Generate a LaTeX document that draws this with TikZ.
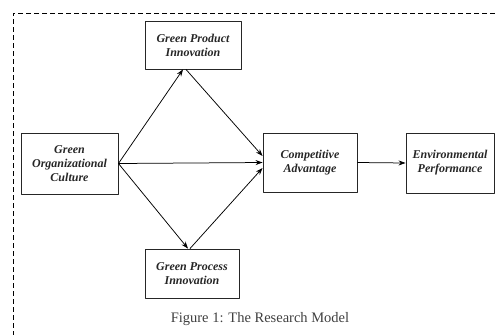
\documentclass[tikz,border=0pt]{standalone}
\usepackage{fontspec}
\setmainfont{Liberation Serif}
\usetikzlibrary{arrows.meta}
\begin{document}
\begin{tikzpicture}[x=1pt, y=-1pt, line join=round, >={Stealth[length=7pt,width=5pt]}, line width=0.7pt,
		box/.style={draw=black!85, line width=0.9pt, align=center, inner sep=0pt, font=\fontsize{12}{14}\selectfont\bfseries\itshape, text=black!85},
		link/.style={->, line width=0.75pt}]
			\useasboundingbox (0,0) rectangle (495,335);
			\draw[dashed, dash pattern=on 5pt off 3pt, line width=0.8pt] (495,13)--(13,13)--(13,335);
			\node[box, minimum width=96pt, minimum height=48pt] (gpi) at (193,45) {Green Product\\Innovation};
			\node[box, minimum width=97pt, minimum height=61pt] (goc) at (69.5,163.5) {Green\\Organizational\\Culture};
			\node[box, minimum width=94pt, minimum height=59pt] (ca) at (310,162.5) {Competitive\\Advantage};
			\node[box, minimum width=88pt, minimum height=60pt] (ep) at (450,163) {Environmental\\Performance};
			\node[box, minimum width=94pt, minimum height=49pt] (gpr) at (192,273.5) {Green Process\\Innovation};
			\draw[link] (goc.east)--([xshift=-10pt]gpi.south);
			\draw[link] ([xshift=-7pt]gpi.south)--([yshift=6.5pt]ca.west);
			\draw[link] (goc.east)--(ca.west);
			\draw[link] (goc.east)--([xshift=-4pt]gpr.north);
			\draw[link] ([xshift=-2pt]gpr.north)--([yshift=-5.5pt]ca.west);
			\draw[link] (ca.east)--(ep.west);
			\node[font=\fontsize{14.5}{17}\selectfont, text=black!75] (cap) at (260,319) {Figure 1: The Research Model};
		\end{tikzpicture}
\end{document}
